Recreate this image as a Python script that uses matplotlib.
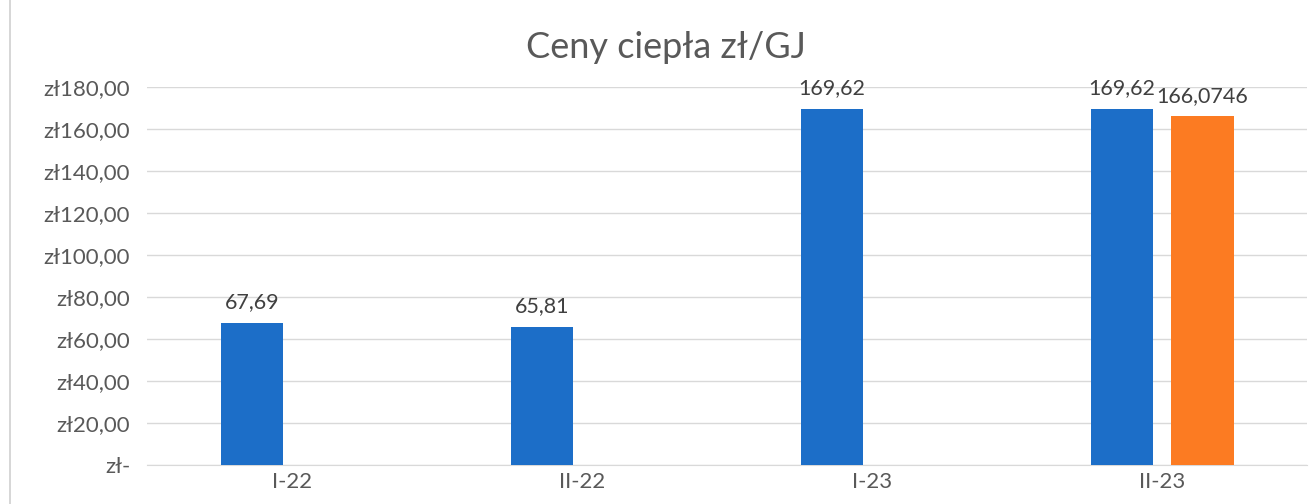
import matplotlib
matplotlib.use("Agg")
import matplotlib.pyplot as plt
import numpy as np
from matplotlib.lines import Line2D

categories = ["I-22", "II-22", "I-23", "II-23"]
series_blue = [67.69, 65.81, 169.62, 169.62]
series_orange = [None, None, None, 166.0746]
labels_blue = ["67,69", "65,81", "169,62", "169,62"]
labels_orange = [None, None, None, "166,0746"]
y_ticks = [0, 20, 40, 60, 80, 100, 120, 140, 160, 180]
y_tick_labels = ["zł-", "zł20,00", "zł40,00", "zł60,00", "zł80,00", "zł100,00",
                 "zł120,00", "zł140,00", "zł160,00", "zł180,00"]
title = "Ceny ciepła zł/GJ"

plt.rcParams['font.family'] = ['Lato', 'DejaVu Sans']

fig = plt.figure(figsize=(13.16, 5.04), dpi=100)
ax = fig.add_axes([0.1117, 0.0774, 0.8815, 0.75])

x = np.arange(len(categories))
w = 0.217
off = 0.138
blue = '#1c6ec8'
orange = '#fc7b22'
txt = '#404040'

for i, v in enumerate(series_blue):
    if v is not None:
        ax.bar(x[i] - off, v, width=w, color=blue, zorder=3)
        ax.text(x[i] - off, v + 5, labels_blue[i], ha='center', va='bottom',
                fontsize=15.5, color=txt)
for i, v in enumerate(series_orange):
    if v is not None:
        ax.bar(x[i] + off, v, width=w, color=orange, zorder=3)
        ax.text(x[i] + off, v + 5, labels_orange[i], ha='center', va='bottom',
                fontsize=15.5, color=txt)

ax.set_xlim(-0.5, len(categories) - 0.5)
ax.set_ylim(0, 180)
ax.set_yticks(y_ticks)
ax.set_yticklabels(y_tick_labels, fontsize=16, color='#595959')
ax.set_xticks(x)
ax.set_xticklabels(categories, fontsize=16, color='#595959')
ax.tick_params(axis='both', length=0)
ax.tick_params(axis='y', pad=12)
ax.tick_params(axis='x', pad=5)
ax.grid(axis='y', color='#d9d9d9', linewidth=1.0, zorder=0)
for s in ['top', 'right', 'left']:
    ax.spines[s].set_visible(False)
ax.spines['bottom'].set_color('#d9d9d9')
ax.set_axisbelow(True)

fig.text(0.506, 0.905, title, ha='center', va='center', fontsize=26, color='#595959')

fig.add_artist(Line2D([10 / 1316, 10 / 1316], [0, 1], color='#d0d0d0', linewidth=1.2,
                      transform=fig.transFigure))

fig.savefig("out.png", dpi=100)
